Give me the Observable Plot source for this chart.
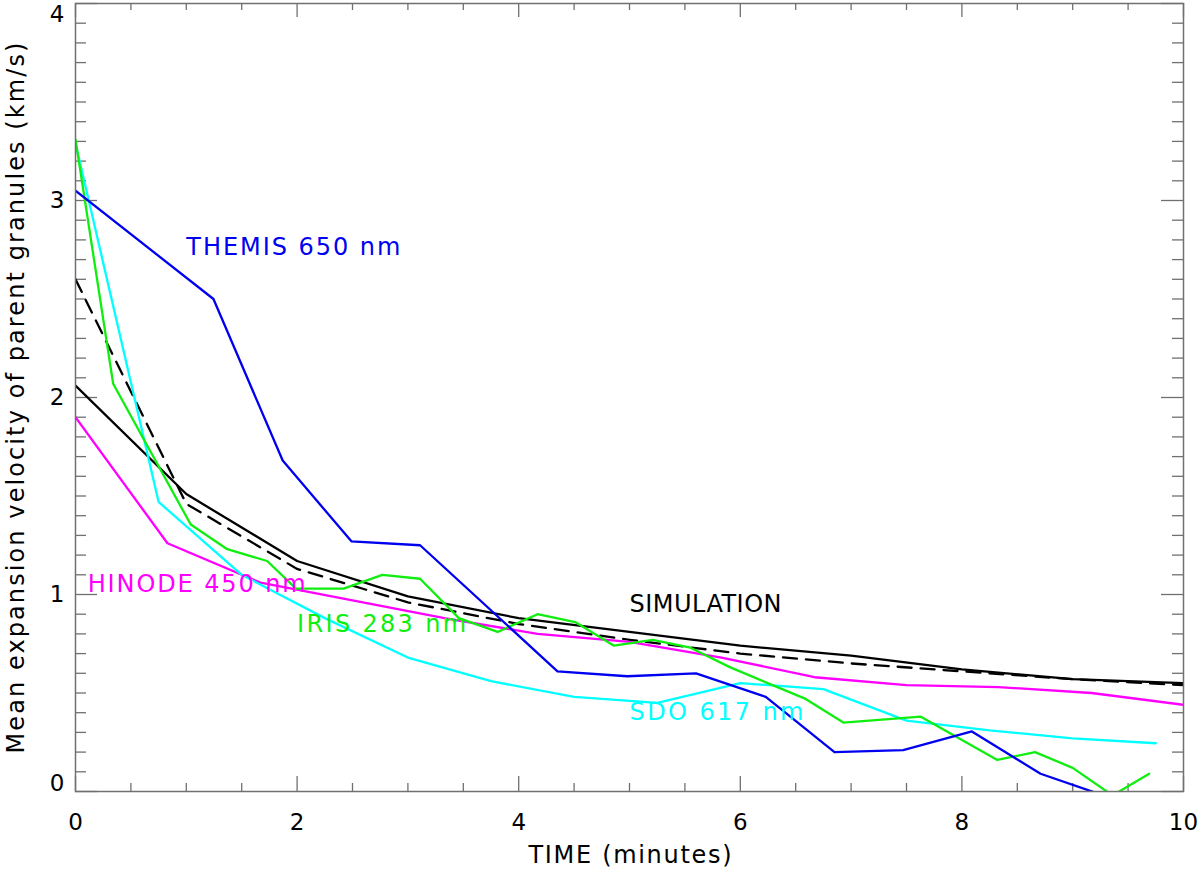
<!DOCTYPE html>
<html>
<head>
<meta charset="utf-8">
<script src="https://cdn.jsdelivr.net/npm/d3@7"></script>
<script src="https://cdn.jsdelivr.net/npm/@observablehq/plot@0.6"></script>
<style>
  html, body { margin: 0; padding: 0; background: #fff; }
  #chart svg { display: block; }
</style>
</head>
<body>
<div id="chart"></div>
<script>
// ---- data (time in minutes, mean expansion velocity in km/s) ----
const simTime      = [0, 1, 2, 3, 4, 5, 6, 7, 8, 9, 10];
const simSolid     = [2.06, 1.51, 1.17, 0.99, 0.88, 0.81, 0.74, 0.69, 0.62, 0.57, 0.55];
const simDashed    = [2.60, 1.46, 1.13, 0.96, 0.85, 0.77, 0.70, 0.65, 0.61, 0.57, 0.54];

const themisTime   = [0, 1.245, 1.87, 2.49, 3.11, 4.35, 4.98, 5.60, 6.23, 6.85, 7.47, 8.09, 8.71, 9.33];
const themisVel    = [3.05, 2.50, 1.68, 1.27, 1.25, 0.61, 0.585, 0.60, 0.48, 0.20, 0.21, 0.305, 0.09, -0.03];

const hinodeTime   = [0, 0.83, 1.67, 2.50, 3.33, 4.17, 5.00, 5.83, 6.67, 7.50, 8.33, 9.17, 10];
const hinodeVel    = [1.90, 1.26, 1.06, 0.97, 0.88, 0.80, 0.76, 0.68, 0.58, 0.54, 0.53, 0.50, 0.44];

const irisTime     = [0, 0.34, 1.04, 1.37, 1.73, 1.99, 2.42, 2.77, 3.11, 3.46, 3.81, 4.17, 4.51, 4.86, 5.21, 5.55, 5.91, 6.59, 6.93, 7.63, 8.32, 8.66, 9.00, 9.36, 9.69];
const irisVel      = [3.31, 2.07, 1.355, 1.23, 1.17, 1.03, 1.03, 1.10, 1.08, 0.88, 0.81, 0.90, 0.86, 0.74, 0.77, 0.73, 0.63, 0.47, 0.35, 0.38, 0.16, 0.20, 0.12, -0.02, 0.09];

const sdoTime      = [0, 0.75, 1.5, 2.25, 3.0, 3.75, 4.5, 5.25, 6.0, 6.75, 7.5, 8.25, 9.0, 9.75];
const sdoVel       = [3.29, 1.47, 1.10, 0.88, 0.68, 0.56, 0.48, 0.45, 0.55, 0.52, 0.36, 0.31, 0.27, 0.245];

const xMajorTicks  = [0, 2, 4, 6, 8, 10];
const yMajorTicks  = [0, 1, 2, 3, 4];
const xMinorTicks  = d3.range(0, 10.001, 0.5).filter(v => !xMajorTicks.includes(v));
const yMinorTicks  = d3.range(1, 40).map(i => i / 10).filter(v => !yMajorTicks.includes(v));

const seriesNames  = ["THEMIS 650 nm", "HINODE 450 nm", "IRIS 283 nm", "SIMULATION", "SDO 617 nm"];
const xTitle = "TIME (minutes)";
const yTitle = "Mean expansion velocity of parent granules (km/s)";

// ---- build tables ----
const rows = (t, v) => t.map((x, i) => ({time: x, value: v[i]}));
const colors = {themis: "#0000f0", hinode: "#ff00ff", iris: "#10ee10", sdo: "#00ffff", sim: "#000000"};

// label anchors (data coordinates)
const labelRows = [
  {text: seriesNames[0], time: 1.00, value: 2.76, color: colors.themis, len: 214},
  {text: seriesNames[1], time: 0.11, value: 1.05, color: colors.hinode, len: 218},
  {text: seriesNames[2], time: 2.00, value: 0.85, color: colors.iris,   len: 169},
  {text: seriesNames[3], time: 5.00, value: 0.95, color: colors.sim,    len: 152},
  {text: seriesNames[4], time: 5.00, value: 0.40, color: colors.sdo,    len: 174}
];

const tickColor = "#707070";
const lineW = 2.3;
const FONT = "DejaVu Sans, Verdana, sans-serif";

const chart = Plot.plot({
  width: 1200,
  height: 874,
  marginLeft: 75,
  marginRight: 17,
  marginTop: 3,
  marginBottom: 83,
  style: {fontFamily: FONT, background: "#fff", color: "#000"},
  x: {domain: [0, 10], axis: null},
  y: {domain: [0, 4], axis: null},
  marks: [
    // ticks (inward, IDL style) on all four sides
    Plot.ruleX(xMajorTicks, {x: d => d, y1: 0, y2: 0, insetTop: -15, stroke: tickColor, strokeWidth: 1.3}),
    Plot.ruleX(xMinorTicks, {x: d => d, y1: 0, y2: 0, insetTop: -8, stroke: tickColor, strokeWidth: 1.3}),
    Plot.ruleX(xMajorTicks, {x: d => d, y1: 4, y2: 4, insetBottom: -14, stroke: tickColor, strokeWidth: 1.3}),
    Plot.ruleX(xMinorTicks, {x: d => d, y1: 4, y2: 4, insetBottom: -7, stroke: tickColor, strokeWidth: 1.3}),
    Plot.ruleY(yMajorTicks, {y: d => d, x1: 0, x2: 0, insetRight: -22, stroke: tickColor, strokeWidth: 1.3}),
    Plot.ruleY(yMinorTicks, {y: d => d, x1: 0, x2: 0, insetRight: -11, stroke: tickColor, strokeWidth: 1.3}),
    Plot.ruleY(yMajorTicks, {y: d => d, x1: 10, x2: 10, insetLeft: -22, stroke: tickColor, strokeWidth: 1.3}),
    Plot.ruleY(yMinorTicks, {y: d => d, x1: 10, x2: 10, insetLeft: -11, stroke: tickColor, strokeWidth: 1.3}),

    // series
    Plot.line(rows(simTime, simDashed), {x: "time", y: "value", stroke: colors.sim, strokeWidth: lineW, strokeDasharray: "14,9", clip: true}),
    Plot.line(rows(simTime, simSolid), {x: "time", y: "value", stroke: colors.sim, strokeWidth: lineW, clip: true}),
    Plot.line(rows(hinodeTime, hinodeVel), {x: "time", y: "value", stroke: colors.hinode, strokeWidth: lineW, clip: true}),
    Plot.line(rows(sdoTime, sdoVel), {x: "time", y: "value", stroke: colors.sdo, strokeWidth: lineW, clip: true}),
    Plot.line(rows(irisTime, irisVel), {x: "time", y: "value", stroke: colors.iris, strokeWidth: lineW, clip: true}),
    Plot.line(rows(themisTime, themisVel), {x: "time", y: "value", stroke: colors.themis, strokeWidth: lineW, clip: true}),

    Plot.frame({stroke: tickColor, strokeWidth: 1.5}),

    // series labels
    Plot.text(labelRows, {x: "time", y: "value", text: "text", fill: "color", textAnchor: "start", lineAnchor: "middle", fontSize: 24, className: "serieslabel"}),

    // tick labels
    Plot.text(xMajorTicks, {x: d => d, frameAnchor: "bottom", dy: 31, text: d => String(d), fontSize: 23, lineAnchor: "middle", fill: "#000"}),
    Plot.text(yMajorTicks.filter(v => v > 0 && v < 4), {y: d => d, frameAnchor: "left", dx: -11, text: d => String(d), fontSize: 23, textAnchor: "end", lineAnchor: "middle", fill: "#000"}),
    Plot.text([4], {y: d => d, frameAnchor: "left", dx: -11, dy: 11, text: d => String(d), fontSize: 23, textAnchor: "end", lineAnchor: "middle", fill: "#000"}),
    Plot.text([0], {y: d => d, frameAnchor: "left", dx: -11, dy: -8, text: d => String(d), fontSize: 23, textAnchor: "end", lineAnchor: "middle", fill: "#000"}),

    // axis titles (start-anchored so the stretched spacing stays in place)
    Plot.text([xTitle], {frameAnchor: "bottom-left", dx: 453, dy: 64, text: d => d, fontSize: 24, textAnchor: "start", lineAnchor: "middle", fill: "#000", className: "xtitle"}),
    Plot.text([yTitle], {frameAnchor: "bottom-left", dx: -59, dy: -38, rotate: -90, text: d => d, fontSize: 24, textAnchor: "start", lineAnchor: "middle", fill: "#000", className: "ytitle"})
  ]
});

document.getElementById("chart").appendChild(chart);

// widen text spacing to match the wide vector font of the original
const svg = d3.select(chart);
svg.selectAll("g.serieslabel text").each(function() {
  const t = d3.select(this).text();
  const row = labelRows.find(r => r.text === t);
  if (row) d3.select(this).attr("textLength", row.len).attr("lengthAdjust", "spacing");
});
svg.selectAll("g.xtitle text").attr("textLength", 203).attr("lengthAdjust", "spacing");
svg.selectAll("g.ytitle text").attr("textLength", 711).attr("lengthAdjust", "spacing");
</script>
</body>
</html>
